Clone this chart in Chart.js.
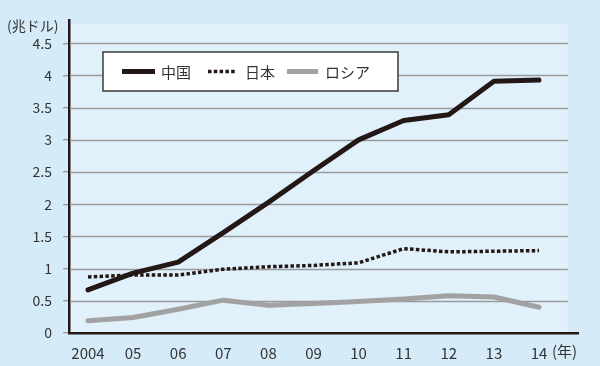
<!DOCTYPE html>
<html><head><meta charset="utf-8">
<script src="https://cdn.jsdelivr.net/npm/chart.js@4"></script>
<style>html,body{margin:0;padding:0;background:#d5ebf8}#wrap{width:600px;height:366px;position:relative}</style>
</head><body><div id="wrap"><canvas id="c" width="600" height="366"></canvas></div>
<script>
const years = ['2004','05','06','07','08','09','10','11','12','13','14'];
const seriesNames = ['中国','日本','ロシア'];
const china  = [0.67, 0.93, 1.10, 1.56, 2.03, 2.52, 3.00, 3.30, 3.39, 3.91, 3.93];
const japan  = [0.87, 0.90, 0.90, 0.99, 1.03, 1.05, 1.09, 1.31, 1.26, 1.27, 1.28];
const russia = [0.19, 0.24, 0.37, 0.51, 0.43, 0.46, 0.49, 0.53, 0.58, 0.56, 0.40];
const yTicks = [0, 0.5, 1, 1.5, 2, 2.5, 3, 3.5, 4, 4.5];
const yUnit = '(兆ドル)';
const xUnit = '(年)';

const INK = '#231815';
const GRAY = '#a2a2a2';
const FONT = "'Noto Sans CJK JP', 'Noto Sans', sans-serif";

const toPts = arr => arr.map((v, i) => ({x: i, y: v}));

const deco = {
  id: 'deco',
  beforeDraw(chart) {
    const {ctx, chartArea: a, scales: {x, y}} = chart;
    ctx.save();
    ctx.fillStyle = '#d5ebf8';
    ctx.fillRect(0, 0, chart.width, chart.height);
    ctx.fillStyle = '#e0f1fb';
    const r = x.getPixelForValue(10.64);
    const t = y.getPixelForValue(4.8);
    ctx.fillRect(a.left, t, r - a.left, a.bottom - t);
    ctx.restore();
  },
  beforeDatasetsDraw(chart) {
    const {ctx, chartArea: a, scales: {x, y}} = chart;
    const r = x.getPixelForValue(10.64);
    ctx.save();
    ctx.strokeStyle = '#9a9a9a';
    ctx.lineWidth = 1.3;
    yTicks.forEach(v => {
      if (v === 0) return;
      const py = Math.round(y.getPixelForValue(v)) + 0.5;
      ctx.beginPath();
      ctx.moveTo(a.left + 1, py);
      ctx.lineTo(r, py);
      ctx.stroke();
    });
    ctx.restore();
  },
  afterDraw(chart) {
    const {ctx} = chart;
    ctx.save();
    ctx.fillStyle = '#333';
    ctx.font = '14px ' + FONT;
    ctx.textBaseline = 'middle';
    ctx.textAlign = 'left';
    ctx.fillText(yUnit, 7, 26);
    ctx.font = '15px ' + FONT;
    ctx.fillText(xUnit, 552, 351);
    const bx = 103, by = 52, bw = 295, bh = 39;
    ctx.fillStyle = '#ffffff';
    ctx.fillRect(bx, by, bw, bh);
    ctx.strokeStyle = '#3a3a3a';
    ctx.lineWidth = 1.5;
    ctx.strokeRect(bx, by, bw, bh);
    const ly = by + bh / 2;
    const items = [
      {x0: 122, x1: 155, tx: 161},
      {x0: 208, x1: 237, tx: 245},
      {x0: 287, x1: 318, tx: 325}
    ];
    chart.data.datasets.forEach((ds, i) => {
      const it = items[i];
      ctx.strokeStyle = ds.borderColor;
      ctx.lineWidth = ds.borderWidth;
      ctx.setLineDash(ds.borderDash || []);
      ctx.lineCap = 'butt';
      ctx.beginPath();
      ctx.moveTo(it.x0, ly);
      ctx.lineTo(it.x1, ly);
      ctx.stroke();
      ctx.setLineDash([]);
      ctx.fillStyle = '#333';
      ctx.font = '15px ' + FONT;
      ctx.textBaseline = 'middle';
      ctx.fillText(ds.label, it.tx, ly + 1);
    });
    ctx.restore();
  }
};

new Chart(document.getElementById('c'), {
  type: 'line',
  data: {
    datasets: [
      {label: seriesNames[0], data: toPts(china), borderColor: INK, borderWidth: 5, borderCapStyle: 'round', borderJoinStyle: 'round'},
      {label: seriesNames[1], data: toPts(japan), borderColor: INK, borderWidth: 3.5, borderDash: [3.5, 2.3], borderCapStyle: 'butt'},
      {label: seriesNames[2], data: toPts(russia), borderColor: GRAY, borderWidth: 5, borderCapStyle: 'round', borderJoinStyle: 'round'}
    ]
  },
  options: {
    responsive: false,
    animation: false,
    devicePixelRatio: 1,
    layout: {padding: {top: 20, right: 22, left: 0, bottom: 0}},
    elements: {point: {radius: 0}, line: {tension: 0}},
    plugins: {legend: {display: false}, tooltip: {enabled: false}},
    scales: {
      x: {
        type: 'linear',
        min: -0.421,
        max: 10.865,
        afterBuildTicks: s => { s.ticks = years.map((_, i) => ({value: i})); },
        afterFit: s => { s.height = 33; },
        grid: {display: false},
        border: {display: true, color: INK, width: 2.5},
        ticks: {
          autoSkip: false, maxRotation: 0, padding: 3,
          color: '#333', font: {family: FONT, size: 15},
          callback: v => years[Math.round(v)]
        }
      },
      y: {
        type: 'linear',
        min: 0,
        max: 4.862,
        afterBuildTicks: s => { s.ticks = yTicks.map(v => ({value: v})); },
        afterFit: s => { s.width = 69; },
        grid: {display: true, drawOnChartArea: false, drawTicks: true, tickLength: 6, color: '#9a9a9a', lineWidth: 1.3},
        border: {display: true, color: INK, width: 2.5},
        ticks: {
          padding: 11, color: '#333', font: {family: FONT, size: 14},
          callback: v => String(v)
        }
      }
    }
  },
  plugins: [deco]
});
</script>
</body></html>
